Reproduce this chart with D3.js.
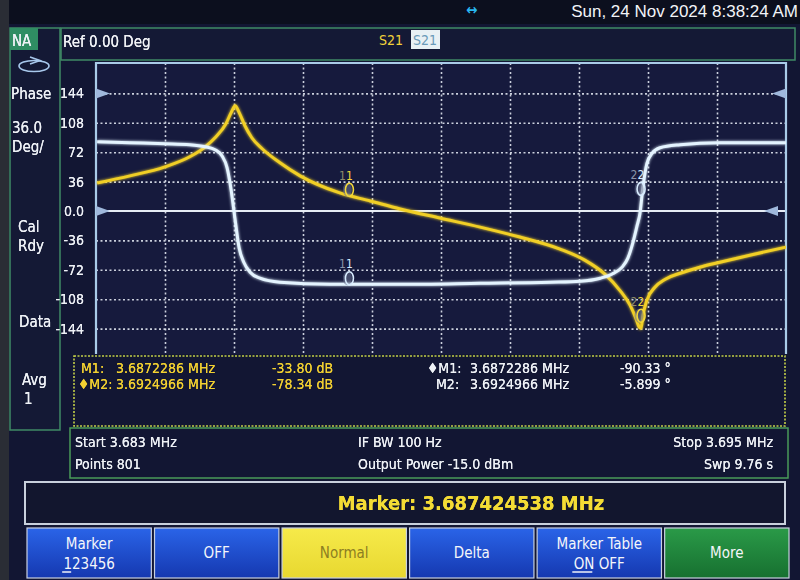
<!DOCTYPE html>
<html><head><meta charset="utf-8">
<script src="https://cdn.jsdelivr.net/npm/d3@7"></script>
<style>
html,body{margin:0;padding:0;background:#0b0e1b;}
svg{display:block;font-family:"DejaVu Sans Condensed","Liberation Sans",sans-serif;}
</style></head>
<body><svg id="c" width="800" height="580"></svg>
<script>
// ---------- DATA ----------
const freqStart = 3.683, freqStop = 3.695;            // MHz
const xGridFreqs = [3.6842, 3.6854, 3.6866, 3.6878, 3.6890, 3.6902, 3.6914, 3.6926, 3.6938];
const yTicks = [144, 108, 72, 36, 0, -36, -72, -108, -144];
const yTickLabels = ["144", "108", "72", "36", "0.0", "-36", "-72", "-108", "-144"];

// S21 phase trace (white/cyan), degrees
const phaseFreq = [3.68302,3.68359,3.68420,3.68463,3.68490,3.68507,3.68519,3.68528,3.68535,3.68542,3.68549,3.68557,3.68568,3.68585,3.68620,3.68707,3.68829,3.68968,3.69090,3.69142,3.69177,3.69197,3.69215,3.69225,3.69234,3.69241,3.69246,3.69251,3.69258,3.69267,3.69281,3.69316,3.69385,3.69500];
const phaseDeg  = [84.8,83.6,82.3,81.1,78.6,75.0,67.6,52.8,25.8,-11.1,-45.5,-62.7,-75.0,-82.3,-87.2,-89.7,-89.7,-88.5,-87.2,-86.0,-82.3,-77.4,-68.8,-57.7,-38.0,-18.0,-3.0,28.0,58.0,70.5,77.4,81.1,83.6,83.6];

// S21 magnitude trace (yellow), as drawn on the grid (grid units)
const magFreq = [3.68302,3.68359,3.68420,3.68463,3.68490,3.68507,3.68526,3.68535,3.68542,3.68549,3.68559,3.68571,3.68589,3.68620,3.68655,3.68724,3.68777,3.68829,3.68898,3.68968,3.69037,3.69107,3.69150,3.69185,3.69211,3.69229,3.69239,3.69244,3.69248,3.69251,3.69258,3.69272,3.69290,3.69316,3.69350,3.69385,3.69437,3.69500];
const magVal  = [34.4,43.0,54.1,66.4,78.6,89.7,106.9,120.4,129.0,120.4,104.4,89.7,76.2,59.0,43.0,22.1,12.3,2.5,-8.6,-19.7,-31.9,-46.7,-60.2,-77.4,-97.1,-115.5,-131.5,-141.3,-143.8,-129.0,-109.4,-93.4,-83.5,-76.2,-68.8,-62.7,-54.1,-44.2];

// markers
const markerNames = ["1", "2"];
const markerFreqs = [3.6874245, 3.6924966];

// marker table
const tableMagRows = [["M1:", "3.6872286 MHz", "-33.80 dB"], ["\u2666M2:", "3.6924966 MHz", "-78.34 dB"]];
const tablePhaseRows = [["\u2666M1:", "3.6872286 MHz", "-90.33 \u00b0"], ["M2:", "3.6924966 MHz", "-5.899 \u00b0"]];

const softkeys = [["Marker", "123456"], ["OFF"], ["Normal"], ["Delta"], ["Marker Table", "ON OFF"], ["More"]];

// ---------- DRAW ----------
const svg = d3.select("#c");
const W = 800, H = 580;
const defs = svg.append("defs");
const glow = defs.append("filter").attr("id","glow").attr("x","-20%").attr("y","-20%").attr("width","140%").attr("height","140%");
glow.append("feGaussianBlur").attr("stdDeviation",1.6).attr("result","b");
const fm = glow.append("feMerge"); fm.append("feMergeNode").attr("in","b"); fm.append("feMergeNode").attr("in","SourceGraphic");
const tglow = defs.append("filter").attr("id","tglow");
tglow.append("feGaussianBlur").attr("stdDeviation",0.6).attr("result","b");
const tm = tglow.append("feMerge"); tm.append("feMergeNode").attr("in","b"); tm.append("feMergeNode").attr("in","SourceGraphic");

const blueG = defs.append("linearGradient").attr("id","blueKey").attr("x1",0).attr("y1",0).attr("x2",0).attr("y2",1);
blueG.append("stop").attr("offset","0%").attr("stop-color","#2a64e8");
blueG.append("stop").attr("offset","100%").attr("stop-color","#1538b0");
const greenG = defs.append("linearGradient").attr("id","greenKey").attr("x1",0).attr("y1",0).attr("x2",0).attr("y2",1);
greenG.append("stop").attr("offset","0%").attr("stop-color","#2a9a48");
greenG.append("stop").attr("offset","100%").attr("stop-color","#177030");
const yelG = defs.append("linearGradient").attr("id","yelKey").attr("x1",0).attr("y1",0).attr("x2",0).attr("y2",1);
yelG.append("stop").attr("offset","0%").attr("stop-color","#f6ea4a");
yelG.append("stop").attr("offset","100%").attr("stop-color","#e8d830");

// screen background
svg.append("rect").attr("width",W).attr("height",H).attr("fill","#0c0f1e");
svg.append("rect").attr("x",0).attr("y",0).attr("width",9).attr("height",H).attr("fill","#2a2d35");
svg.append("rect").attr("x",9).attr("y",24).attr("width",W-9).attr("height",H-24).attr("fill","#121633");

// top status
svg.append("text").attr("x",798).attr("y",17).attr("text-anchor","end").attr("fill","#f2f4f8")
  .attr("font-size",17).attr("font-family","Liberation Sans, sans-serif").text("Sun, 24 Nov 2024 8:38:24 AM");
svg.append("text").attr("x",466).attr("y",15).attr("fill","#29b6f0").attr("font-size",15).attr("font-weight","bold").text("\u2194");

// header box
svg.append("rect").attr("x",61).attr("y",28).attr("width",734).attr("height",32).attr("fill","#141935").attr("stroke","#3f8a66").attr("stroke-width",1.5);
svg.append("text").attr("x",63).attr("y",47).attr("fill","#f0f2f6").attr("font-size",15).attr("filter","url(#tglow)").text("Ref 0.00 Deg");
svg.append("text").attr("x",379).attr("y",45).attr("fill","#f2d23a").attr("font-size",14).text("S21");
svg.append("rect").attr("x",411).attr("y",30).attr("width",29).attr("height",19).attr("fill","#e8f0f4");
svg.append("text").attr("x",413).attr("y",45).attr("fill","#6a9ab8").attr("font-size",14).text("S21");

// left panel
svg.append("rect").attr("x",10).attr("y",28).attr("width",50).attr("height",402).attr("fill","#141935").attr("stroke","#3f8a66").attr("stroke-width",1.5);
svg.append("rect").attr("x",10).attr("y",28).attr("width",28).attr("height",22).attr("fill","#2f8d63");
const leftTxt = [["NA",12,46],["Phase",11,99],["36.0",12,133],["Deg/",12,152],["Cal",18,232],["Rdy",18,251],["Data",19,327],["Avg",22,385],["1",24,404]];
svg.selectAll("text.lp").data(leftTxt).join("text").attr("class","lp")
  .attr("x",d=>d[1]).attr("y",d=>d[2]).attr("fill","#eef1f6").attr("font-size",15).attr("filter","url(#tglow)").text(d=>d[0]);
svg.append("ellipse").attr("cx",34).attr("cy",66).attr("rx",15).attr("ry",5.5).attr("fill","none").attr("stroke","#a8c8ec").attr("stroke-width",1.6);
svg.append("path").attr("d","M30,57 L40,60.5 L30,64").attr("fill","none").attr("stroke","#a8c8ec").attr("stroke-width",1.6);

// plot
const x0 = 96, x1 = 786, yTop = 63, yBot = 354;
const x = d3.scaleLinear().domain([freqStart, freqStop]).range([x0, x1]);
const y = d3.scaleLinear().domain([-180, 180]).range([358, 64]);

svg.append("rect").attr("x",x0).attr("y",yTop).attr("width",x1-x0).attr("height",yBot-yTop).attr("fill","#161a3d");
const clip = defs.append("clipPath").attr("id","pc");
clip.append("rect").attr("x",x0).attr("y",yTop).attr("width",x1-x0).attr("height",yBot-yTop);

// horizontal dotted grid using axis
const yGrid = svg.append("g").attr("transform",`translate(${x0},0)`)
  .call(d3.axisRight(y).tickValues(yTicks.filter(v=>v!==0)).tickSize(x1-x0).tickFormat(""));
yGrid.select(".domain").remove();
yGrid.selectAll("line").attr("stroke","#dfe4ee").attr("stroke-width",1.6).attr("stroke-dasharray","2,2.5").attr("opacity",0.9);
const xGrid = svg.append("g").attr("transform",`translate(0,${yTop})`)
  .call(d3.axisBottom(x).tickValues(xGridFreqs).tickSize(yBot-yTop).tickFormat(""));
xGrid.select(".domain").remove();
xGrid.selectAll("line").attr("stroke","#dfe4ee").attr("stroke-width",1.6).attr("stroke-dasharray","2,2.5").attr("opacity",0.9);
// reference (0) line solid
svg.append("line").attr("x1",x0).attr("x2",x1).attr("y1",y(0)).attr("y2",y(0)).attr("stroke","#e6ecf4").attr("stroke-width",2);

// y tick labels
const yAx = svg.append("g").attr("transform",`translate(${x0},0)`)
  .call(d3.axisLeft(y).tickValues(yTicks).tickSize(0).tickPadding(12).tickFormat((d,i)=>yTickLabels[i]));
yAx.select(".domain").remove();
yAx.selectAll("text").attr("fill","#eef1f6").attr("font-size",14).attr("font-family","DejaVu Sans Condensed, sans-serif").attr("filter","url(#tglow)");

// frame
svg.append("path").attr("d",`M${x0},${yBot} L${x0},${yTop} L${x1},${yTop} L${x1},${yBot}`)
  .attr("fill","none").attr("stroke","#a9cbe8").attr("stroke-width",2.2);

// reference arrows
const refArrows = [[x0, y(144), 1], [x0, y(0), 1], [x1, y(144), -1], [x1-8, y(0), -1]];
svg.selectAll("path.ref").data(refArrows).join("path").attr("class","ref")
  .attr("d",d=>`M${d[0]},${d[1]-5} L${d[0]+d[2]*14},${d[1]} L${d[0]},${d[1]+5} Z`)
  .attr("fill","#9fb8dc");

// traces
const plot = svg.append("g").attr("clip-path","url(#pc)");
const traceLine = d3.line().x(d=>x(d[0])).y(d=>y(d[1])).curve(d3.curveMonotoneX);
const phaseData = phaseFreq.map((f,i)=>[f, phaseDeg[i]]);
const magData = magFreq.map((f,i)=>[f, magVal[i]]);
plot.append("path").datum(magData).attr("d",traceLine).attr("fill","none").attr("stroke","#f1cf25").attr("stroke-width",3).attr("filter","url(#glow)");
plot.append("path").datum(phaseData).attr("d",traceLine).attr("fill","none").attr("stroke","#e4f4ff").attr("stroke-width",3).attr("filter","url(#glow)");

// markers
function interp(fs, vs, f){ const i = d3.bisectLeft(fs, f); if(i<=0) return vs[0]; if(i>=fs.length) return vs[vs.length-1];
  const t=(f-fs[i-1])/(fs[i]-fs[i-1]); return vs[i-1]+t*(vs[i]-vs[i-1]); }
markerFreqs.forEach((f,i)=>{
  [[magFreq, magVal, "#f3d83a", "#8e8a6a"], [phaseFreq, phaseDeg, "#d8ecff", "#8a94a8"]].forEach(tr=>{
    const mx = x(f) - 3, my = y(interp(tr[0], tr[1], f));
    const g = svg.append("g");
    g.append("ellipse").attr("cx",mx).attr("cy",my-6).attr("rx",4.5).attr("ry",7).attr("fill","#6a7290").attr("opacity",0.55);
    g.append("ellipse").attr("cx",mx+2).attr("cy",my-6).attr("rx",4).attr("ry",6.5).attr("fill","none").attr("stroke",tr[2]).attr("stroke-width",1.6);
    g.append("text").attr("x",mx-5).attr("y",my-16).attr("fill",tr[3]).attr("font-size",12).attr("text-anchor","middle").text(markerNames[i]);
    g.append("text").attr("x",mx+2).attr("y",my-16).attr("fill",tr[2]).attr("font-size",12).attr("text-anchor","middle").text(markerNames[i]);
  });
});

// marker table
svg.append("rect").attr("x",74).attr("y",356).attr("width",711).attr("height",70).attr("fill","#121633")
  .attr("stroke","#c2cf48").attr("stroke-width",1.6).attr("stroke-dasharray","2,1.5");
const mcols = [78, 116, 272], pcols = [427, 470, 620];
tableMagRows.forEach((r,ri)=>r.forEach((t,ci)=>{
  svg.append("text").attr("x",mcols[ci] + (ci===0 && ri===0 ? 3 : 0)).attr("y",373+ri*16).attr("fill","#f2d030").attr("font-size",14).attr("filter","url(#tglow)").text(t);
}));
tablePhaseRows.forEach((r,ri)=>r.forEach((t,ci)=>{
  svg.append("text").attr("x",pcols[ci] + (ci===0 && ri===1 ? 9 : 0)).attr("y",373+ri*16).attr("fill","#eef1f6").attr("font-size",14).attr("filter","url(#tglow)").text(t);
}));

// info box
svg.append("rect").attr("x",70).attr("y",428).attr("width",718).attr("height",50).attr("fill","#121633").attr("stroke","#4a9a5a").attr("stroke-width",1.5);
const info = [["Start 3.683 MHz",75,447,"start"],["Points 801",75,469,"start"],["IF BW 100 Hz",358,447,"start"],["Output Power -15.0 dBm",358,469,"start"],["Stop 3.695 MHz",773,447,"end"],["Swp 9.76 s",773,469,"end"]];
svg.selectAll("text.inf").data(info).join("text").attr("class","inf").attr("x",d=>d[1]).attr("y",d=>d[2]).attr("text-anchor",d=>d[3])
  .attr("fill","#eef1f6").attr("font-size",14).attr("filter","url(#tglow)").text(d=>d[0]);

// marker bar
svg.append("rect").attr("x",25).attr("y",482).attr("width",760).attr("height",42).attr("fill","#12162e").attr("stroke","#c8d0dc").attr("stroke-width",2);
svg.append("text").attr("x",471).attr("y",510).attr("text-anchor","middle").attr("fill","#f4dc34").attr("font-size",20).attr("font-weight","bold")
  .attr("filter","url(#tglow)").text("Marker: 3.687424538 MHz");

// softkeys
const kx = d3.scaleBand().domain(d3.range(softkeys.length)).range([27, 789]).paddingInner(0.025);
softkeys.forEach((lab,i)=>{
  const bx = kx(i), bw = kx.bandwidth();
  const fill = i===2 ? "url(#yelKey)" : (i===5 ? "url(#greenKey)" : "url(#blueKey)");
  svg.append("rect").attr("x",bx).attr("y",528).attr("width",bw).attr("height",50).attr("fill",fill).attr("stroke","#c8d0e0").attr("stroke-width",1.2);
  const col = i===2 ? "#8c7e22" : "#f4f6fa";
  if(lab.length===1){
    svg.append("text").attr("x",bx+bw/2).attr("y",558).attr("text-anchor","middle").attr("fill",col).attr("font-size",15).text(lab[0]);
  } else {
    svg.append("text").attr("x",bx+bw/2).attr("y",549).attr("text-anchor","middle").attr("fill",col).attr("font-size",15).text(lab[0]);
    svg.append("text").attr("x",bx+bw/2).attr("y",569).attr("text-anchor","middle").attr("fill",col).attr("font-size",15).text(lab[1]);
  }
});
// underline selected items
svg.append("line").attr("x1",kx(0)+kx.bandwidth()/2-27).attr("x2",kx(0)+kx.bandwidth()/2-18).attr("y1",572).attr("y2",572).attr("stroke","#fff").attr("stroke-width",1.4);
svg.append("line").attr("x1",kx(4)+kx.bandwidth()/2-27).attr("x2",kx(4)+kx.bandwidth()/2-7).attr("y1",572).attr("y2",572).attr("stroke","#fff").attr("stroke-width",1.4);
</script></body></html>
